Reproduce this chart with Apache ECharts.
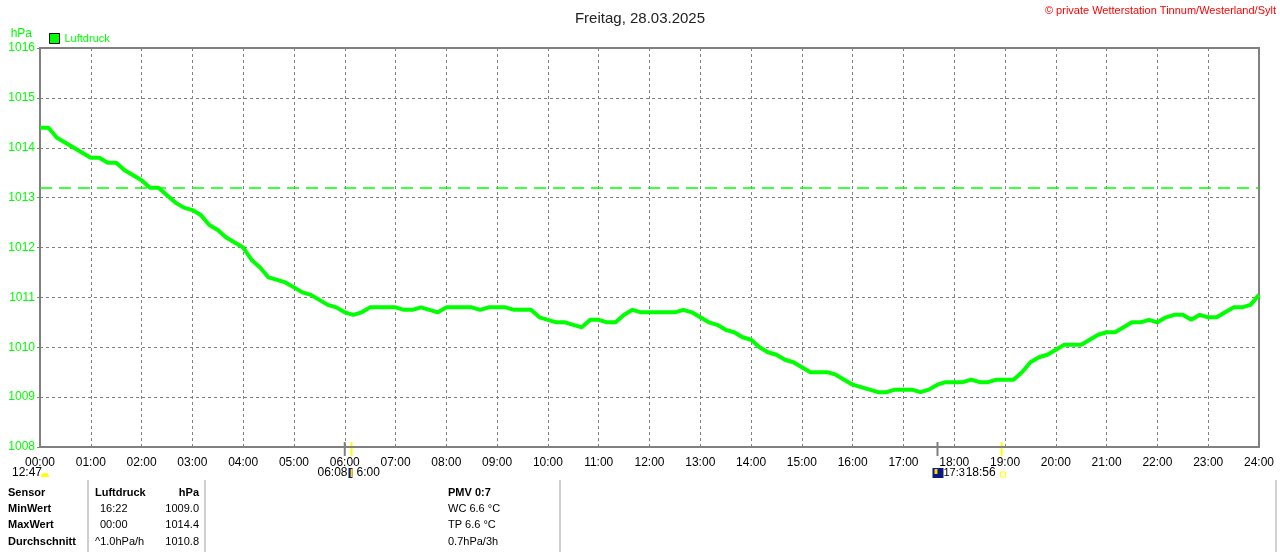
<!DOCTYPE html>
<html><head><meta charset="utf-8">
<script src="https://cdn.jsdelivr.net/npm/echarts@6/dist/echarts.min.js"></script>
<style>html,body{margin:0;padding:0;background:#fff}#c{width:1280px;height:552px}</style>
</head><body><div id="c"></div>
<script>
// Luftdruck (hPa), one reading every 10 minutes from 00:00 to 24:00
const pressure = [
1014.4,1014.4,1014.2,1014.1,1014.0,1013.9,
1013.8,1013.8,1013.7,1013.7,1013.55,1013.45,
1013.35,1013.2,1013.2,1013.05,1012.9,1012.8,
1012.75,1012.65,1012.45,1012.35,1012.2,1012.1,
1012.0,1011.75,1011.6,1011.4,1011.35,1011.3,
1011.2,1011.1,1011.05,1010.95,1010.85,1010.8,
1010.7,1010.65,1010.7,1010.8,1010.8,1010.8,
1010.8,1010.75,1010.75,1010.8,1010.75,1010.7,
1010.8,1010.8,1010.8,1010.8,1010.75,1010.8,
1010.8,1010.8,1010.75,1010.75,1010.75,1010.6,
1010.55,1010.5,1010.5,1010.45,1010.4,1010.55,
1010.55,1010.5,1010.5,1010.65,1010.75,1010.7,
1010.7,1010.7,1010.7,1010.7,1010.75,1010.7,
1010.6,1010.5,1010.45,1010.35,1010.3,1010.2,
1010.15,1010.0,1009.9,1009.85,1009.75,1009.7,
1009.6,1009.5,1009.5,1009.5,1009.45,1009.35,
1009.25,1009.2,1009.15,1009.1,1009.1,1009.15,
1009.15,1009.15,1009.1,1009.15,1009.25,1009.3,
1009.3,1009.3,1009.35,1009.3,1009.3,1009.35,
1009.35,1009.35,1009.5,1009.7,1009.8,1009.85,
1009.95,1010.05,1010.05,1010.05,1010.15,1010.25,
1010.3,1010.3,1010.4,1010.5,1010.5,1010.55,
1010.5,1010.6,1010.65,1010.65,1010.55,1010.65,
1010.6,1010.6,1010.7,1010.8,1010.8,1010.85,
1011.05
];
const stepMinutes = 10;
const referenceLine = 1013.2;
const title = 'Freitag, 28.03.2025';
const copyright = '© private Wetterstation Tinnum/Westerland/Sylt';
const seriesName = 'Luftdruck';
const unit = 'hPa';
const dayLength = '12:47';
const sunrise = {label:'06:08', hour: 6 + 8/60};
const sunriseRef = {label:'6:00', hour: 6};
const sunsetRef = {label:'17:3', hour: 17.67};
const sunset = {label:'18:56', hour: 18 + 56/60};
const tableRows = [
  ['Sensor','Luftdruck','hPa'],
  ['MinWert','16:22','1009.0'],
  ['MaxWert','00:00','1014.4'],
  ['Durchschnitt','^1.0hPa/h','1010.8']
];
const extraInfo = ['PMV 0:7','WC 6.6 °C','TP 6.6 °C','0.7hPa/3h'];

const GREEN = '#00ff00';
const FONT = 'Liberation Sans, Arial, sans-serif';
const data = pressure.map((v,i)=>[i*stepMinutes/60, v]);
const pad = n => (n<10?'0':'')+n;

const chart = echarts.init(document.getElementById('c'), null, {renderer:'canvas'});
chart.setOption({
  animation:false,
  backgroundColor:'#fff',
  title:{text:title,left:'center',top:6,textStyle:{fontFamily:FONT,fontSize:15,fontWeight:'normal',color:'#222'}},
  grid:{left:40,right:21,top:48,bottom:105,show:true,borderColor:'#808080',borderWidth:2},
  xAxis:{type:'value',min:0,max:24,interval:1,
    axisLine:{show:true,lineStyle:{color:'#808080',width:2}},
    axisTick:{show:false},
    axisLabel:{margin:10,fontFamily:FONT,fontSize:12,color:'#000',formatter:v=>pad(v)+':00'},
    splitLine:{show:true,lineStyle:{color:'#808080',type:[3,3],width:1}}},
  yAxis:{type:'value',min:1008,max:1016,interval:1,
    name:unit,nameLocation:'end',nameGap:8,nameTextStyle:{color:GREEN,fontFamily:FONT,fontSize:12,align:'right',padding:[0,8,0,0]},
    axisLine:{show:true,lineStyle:{color:'#808080',width:2}},
    axisTick:{show:true,length:3,lineStyle:{color:'#808080'}},
    axisLabel:{margin:5,fontFamily:FONT,fontSize:12,color:GREEN,formatter:v=>String(v)},
    splitLine:{show:true,lineStyle:{color:'#808080',type:[3,3],width:1}}},
  legend:{show:true,left:49,top:33,padding:0,itemWidth:10,itemHeight:10,itemGap:5,icon:'rect',
    itemStyle:{borderColor:'#000',borderWidth:1},
    textStyle:{color:GREEN,fontFamily:FONT,fontSize:11},data:[seriesName]},
  series:[{name:seriesName,type:'line',data:data,showSymbol:false,
    lineStyle:{color:GREEN,width:4},itemStyle:{color:GREEN},
    markLine:{silent:true,symbol:'none',label:{show:false},
      lineStyle:{color:GREEN,type:[12,7],width:1.5},data:[{yAxis:referenceLine}]}}]
});

function px(h){ return chart.convertToPixel({xAxisIndex:0},h); }
const yBottom = chart.convertToPixel({yAxisIndex:0},1008);
const g = [];
g.push({type:'text',right:4,top:5,style:{text:copyright,fill:'#ff0000',font:'11px '+FONT}});
// sun/day markers on the time axis
[[sunriseRef.hour,'#808080'],[sunrise.hour,'#ffff00'],[sunsetRef.hour,'#808080'],[sunset.hour,'#ffff00']].forEach(([h,c])=>{
  g.push({type:'line',shape:{x1:px(h),y1:yBottom-5,x2:px(h),y2:yBottom+9},style:{stroke:c,lineWidth:2}});
});
const rowY = 467;
g.push({type:'text',left:12,top:rowY,style:{text:dayLength,fill:'#000',font:'12px '+FONT}});
g.push({type:'sector',shape:{cx:45,cy:477,r:4,r0:0,startAngle:Math.PI,endAngle:2*Math.PI},style:{fill:'#ffff00'}});
let x1 = px(sunrise.hour);
g.push({type:'text',x:x1-4,y:rowY,style:{text:sunrise.label,fill:'#000',font:'12px '+FONT,align:'right'}});
g.push({type:'rect',shape:{x:x1-3,y:468,width:4,height:10},style:{fill:'#0a1a80'}});
g.push({type:'rect',shape:{x:x1-1,y:469,width:2,height:8},style:{fill:'#ffd800'}});
g.push({type:'text',x:x1+5,y:rowY,style:{text:sunriseRef.label,fill:'#000',font:'12px '+FONT}});
let x2 = px(sunsetRef.hour);
g.push({type:'rect',shape:{x:x2-5,y:468,width:11,height:10},style:{fill:'#0a1a80'}});
g.push({type:'rect',shape:{x:x2-3,y:469,width:3,height:5},style:{fill:'#ffd800'}});
g.push({type:'text',x:x2+6,y:rowY,style:{text:sunsetRef.label,fill:'#000',font:'11px '+FONT}});
let x3 = px(sunset.hour);
g.push({type:'text',x:x3-6,y:rowY,style:{text:sunset.label,fill:'#000',font:'12px '+FONT,align:'right'}});
g.push({type:'rect',shape:{x:x3-1,y:472,width:5,height:5},style:{fill:'none',stroke:'#ffff00',lineWidth:1}});
// table
const rY = [487,503,519,536];
tableRows.forEach((r,i)=>{
  const bold = i===0 ? 'bold ' : '';
  g.push({type:'text',left:8,top:rY[i],style:{text:r[0],fill:'#000',font:'bold 11px '+FONT}});
  g.push({type:'text',x:i===0?95:(i===3?95:100),y:rY[i],style:{text:r[1],fill:'#000',font:bold+'11px '+FONT}});
  g.push({type:'text',x:199,y:rY[i],style:{text:r[2],fill:'#000',font:bold+'11px '+FONT,align:'right'}});
});
extraInfo.forEach((t,i)=>{
  g.push({type:'text',x:448,y:rY[i],style:{text:t,fill:'#000',font:(i===0?'bold ':'')+'11px '+FONT}});
});
[88,205,560,1276].forEach(x=>{
  g.push({type:'line',shape:{x1:x,y1:480,x2:x,y2:552},style:{stroke:'#a0a0a0',lineWidth:1}});
});
chart.setOption({graphic:g});
</script></body></html>
